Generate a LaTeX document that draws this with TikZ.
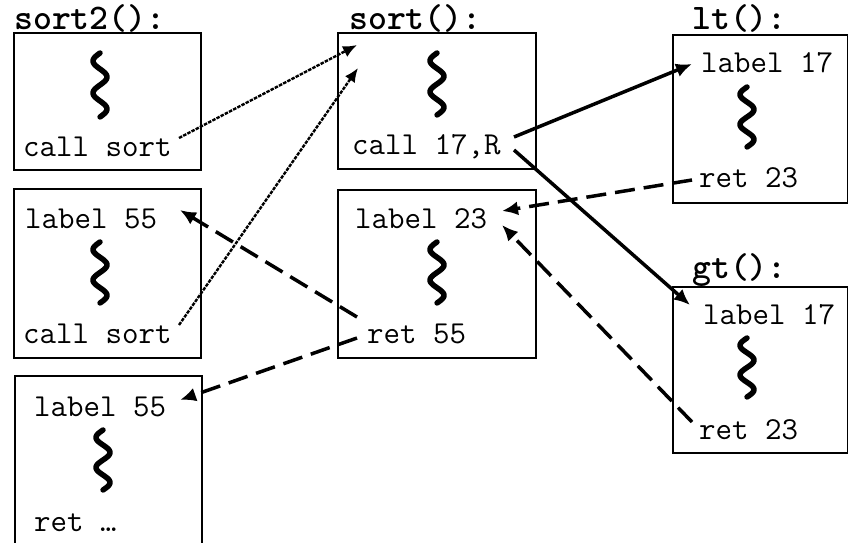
\documentclass[tikz,border=0pt]{standalone}
\usepackage{fontspec}
\usetikzlibrary{arrows.meta}
\newcommand\squigat[3]{\draw[squigline] plot[domain=0:1,samples=60,smooth] ({#1-7*sin(\x*720)},{#2+(#3-#2)*\x});}
\begin{document}
\begin{tikzpicture}[x=1pt,y=-1pt,
  frame/.style={draw=black,line width=1.8pt},
  code/.style={anchor=west,inner sep=0pt,font=\fontsize{32}{34}\selectfont\ttfamily},
  title/.style={anchor=west,inner sep=0pt,font=\fontsize{36}{38}\selectfont\ttfamily\bfseries},
  squigline/.style={line width=5.5pt,line cap=round,line join=round},
  callarrow/.style={line width=2.4pt,dash pattern=on 3.5pt off 1.2pt,-{Latex[length=14pt,width=12pt]}},
  jumparrow/.style={line width=3.5pt,-{Latex[length=16pt,width=14pt]}},
  retarrow/.style={line width=3.5pt,dash pattern=on 20pt off 9pt,-{Latex[length=16pt,width=14pt]}}]
\useasboundingbox (0,0) rectangle (848,543);
\fill[white] (0,0) rectangle (848,543);
% boxes
\node[frame,inner sep=0pt,minimum width=187pt,minimum height=137pt,anchor=north west] (bA) at (13,32) {};
\node[frame,inner sep=0pt,minimum width=187pt,minimum height=169pt,anchor=north west] (bB) at (13,188) {};
\draw[frame] (15,545) -- (15,376) -- (202,376) -- (202,545);
\node[frame,inner sep=0pt,minimum width=198pt,minimum height=136pt,anchor=north west] (bS) at (337,32) {};
\node[frame,inner sep=0pt,minimum width=198pt,minimum height=168pt,anchor=north west] (bR) at (337,189) {};
\node[frame,inner sep=0pt,minimum width=175pt,minimum height=168pt,anchor=north west] (bL) at (672,34) {};
\node[frame,inner sep=0pt,minimum width=175pt,minimum height=166pt,anchor=north west] (bG) at (672,286) {};
% titles
\node[title] (tA) at (14,18) {sort2():};
\node[title] (tS) at (349,18) {sort():};
\node[title] (tL) at (692,18) {lt():};
\node[title] (tG) at (692,270) {gt():};
% texts
\node[code] (cs1) at (23,147) {call sort};
\node[code] (l55a) at (25,219) {label 55};
\node[code] (cs2) at (23,334) {call sort};
\node[code] (l55b) at (34,407) {label 55};
\node[code] (retd) at (34,523) {ret …};
\node[code] (c17) at (352,147) {call 17,R};
\node[code] (l23) at (355,219) {label 23};
\node[code] (r55) at (367,334) {ret 55};
\node[code] (l17a) at (701,63) {label 17};
\node[code] (r23a) at (699,178) {ret 23};
\node[code] (l17b) at (703,315) {label 17};
\node[code] (r23b) at (699,430) {ret 23};
% squiggles
\squigat{100}{53}{117}
\squigat{100}{242}{303}
\squigat{103}{430}{490}
\squigat{437}{53}{115}
\squigat{437}{242}{303}
\squigat{747}{87}{147}
\squigat{747}{338}{397}
% connector end points
\coordinate (s1) at (179,138);
\coordinate (e1) at (357,45);
\coordinate (s2) at (179,325);
\coordinate (e2) at (358,68);
\coordinate (s3) at (514,137);
\coordinate (e3) at (692,64);
\coordinate (s4) at (514,150);
\coordinate (e4) at (690,305);
\coordinate (s5) at (692,180);
\coordinate (e5) at (502,211);
\coordinate (s6) at (692,422);
\coordinate (e6) at (502,225);
\coordinate (s7) at (357,317);
\coordinate (e7) at (180,210);
\coordinate (s8) at (357,338);
\coordinate (e8) at (180,400);
% connectors
\draw[callarrow] (s1) -- (e1);
\draw[callarrow] (s2) -- (e2);
\draw[jumparrow] (s3) -- (e3);
\draw[jumparrow] (s4) -- (e4);
\draw[retarrow] (s5) -- (e5);
\draw[retarrow] (s6) -- (e6);
\draw[retarrow] (s7) -- (e7);
\draw[retarrow] (s8) -- (e8);
\end{tikzpicture}
\end{document}
